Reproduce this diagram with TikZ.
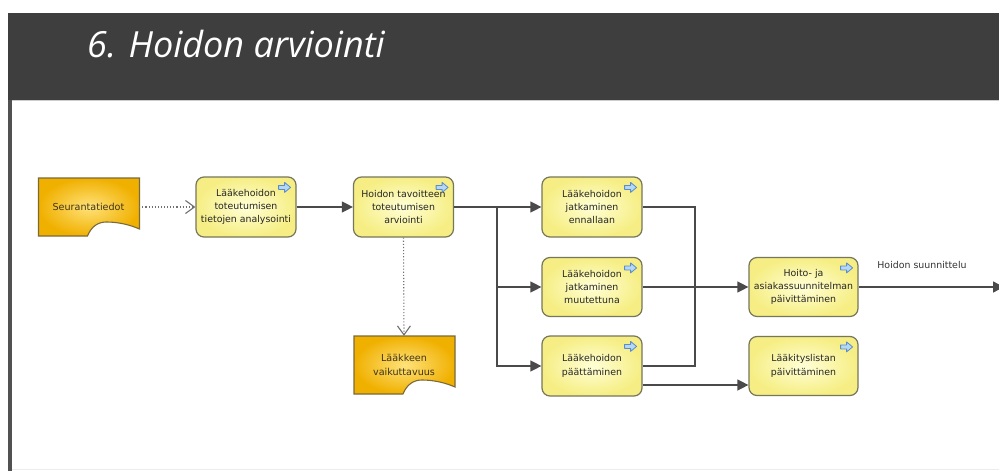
\documentclass[tikz,border=0pt]{standalone}
\usepackage{fontspec}
\setmainfont{DejaVu Sans}
\newfontfamily\titlefont{Open Sans}
\usetikzlibrary{arrows.meta}
\pgfdeclarelayer{back}
\pgfdeclarelayer{bg}
\pgfsetlayers{back,bg,main}
\definecolor{hdr}{HTML}{3E3E3E}
\definecolor{boxborder}{HTML}{76765A}
\definecolor{boxin}{HTML}{FFFFD6}
\definecolor{boxout}{HTML}{F6EE84}
\definecolor{docin}{HTML}{FFE27A}
\definecolor{docout}{HTML}{F0B000}
\definecolor{docborder}{HTML}{7A6A3A}
\definecolor{doctext}{HTML}{3E3418}
\definecolor{linec}{HTML}{4A4A4A}
\definecolor{dotc}{HTML}{707070}
\definecolor{iconfill}{HTML}{B4D8F6}
\definecolor{iconline}{HTML}{5A8CCC}
\newcommand\boxicon[1]{\path[icon, shift={(#1.north east)}] (-18,9) -- (-12,9) -- (-12,6) -- (-6,11) -- (-12,16) -- (-12,13) -- (-18,13) -- cycle;}
\newcommand\docshape[1]{\begin{pgfonlayer}{bg}\path[docpath, shift={(#1.center)}] (-50,-29) -- (51,-29) -- (51,22) .. controls (42,18) and (30,15) .. (18,15) .. controls (10,15) and (3,19) .. (-1,29) -- (-50,29) -- cycle;\end{pgfonlayer}}
\begin{document}
\begin{tikzpicture}[x=1pt,y=-1pt,
  procbox/.style={rectangle, rounded corners=8pt, draw=boxborder, line width=1.2pt, inner color=boxin, outer color=boxout, align=center, font=\fontsize{9.4}{13.3}\selectfont, text=black!85, inner sep=0pt, minimum width=100pt, minimum height=60pt},
  widebox/.style={procbox, minimum width=109pt, minimum height=59pt},
  docnode/.style={rectangle, minimum width=101pt, minimum height=58pt, inner sep=0pt, align=center, font=\fontsize{9.6}{13.3}\selectfont, text=doctext},
  docpath/.style={draw=docborder, line width=1.1pt, inner color=docin, outer color=docout},
  flow/.style={draw=linec, line width=1.3pt, -{Triangle[length=11pt,width=11pt]}},
  plain/.style={draw=linec, line width=1.3pt},
  dotflow/.style={draw=dotc, line width=1.1pt, dotted, -{Straight Barb[length=9pt,width=13pt]}},
  icon/.style={draw=iconline, fill=iconfill, line width=0.8pt, line join=round},
  lbl/.style={font=\fontsize{9.4}{13.3}\selectfont, text=black!80, inner sep=0pt}
]
\useasboundingbox (0,0) rectangle (999,471);
\begin{pgfonlayer}{back}
\fill[white] (0,0) rectangle (999,471);
\fill[hdr] (8,13) rectangle (999,99.5);
\draw[gray!40, line width=1pt] (8,100.5) -- (999,100.5);
\fill[hdr!90] (8,100) rectangle (12,471);
\draw[gray!15] (12,469.5) -- (999,469.5);
\end{pgfonlayer}
\node[anchor=base west, inner sep=0pt, text=white, font=\titlefont\itshape\fontsize{36}{36}\selectfont] (title) at (87,57) {6. Hoidon arviointi};

\node[docnode] (s) at (88.5,207) {Seurantatiedot};
\docshape{s}
\node[procbox] (a) at (246,207) {Lääkehoidon\\toteutumisen\\tietojen analysointi};
\node[procbox] (b) at (403.5,207) {Hoidon tavoitteen\\toteutumisen\\arviointi};
\node[procbox] (c) at (592,207) {Lääkehoidon\\jatkaminen\\ennallaan};
\node[procbox, minimum height=59pt] (d) at (592,287) {Lääkehoidon\\jatkaminen\\muutettuna};
\node[procbox] (e) at (592,366) {Lääkehoidon\\päättäminen};
\node[widebox] (f) at (803.5,287) {Hoito- ja\\asiakassuunnitelman\\päivittäminen};
\node[widebox] (g) at (803.5,366) {Lääkityslistan\\päivittäminen};
\node[docnode] (v) at (404,365) {Lääkkeen\\vaikuttavuus};
\docshape{v}
\foreach \n in {a,b,c,d,e,f,g} {\boxicon{\n}}

\coordinate (j1) at (497,207);
\coordinate (j2) at (695,287);
\coordinate (out) at (1004,287);
\node[lbl] (hs) at (922,265) {Hoidon suunnittelu};

\draw[dotflow] (s.east) -- (a.west);
\draw[flow] (a) -- (b);
\draw[flow] (b.east) -- (c.west);
\draw[flow] (j1) |- (d.west);
\draw[flow] (j1) |- (e.west);
\draw[plain] (c.east) -| (j2);
\draw[plain] (e.east) -| (j2);
\draw[flow] (d.east) -- (f.west);
\draw[flow] ([yshift=-19pt]e.east) -- ([yshift=-19pt]g.west);
\draw[flow] (f.east) -- (out);
\draw[dotflow] (b.south) -- (v.north);
\end{tikzpicture}
\end{document}
